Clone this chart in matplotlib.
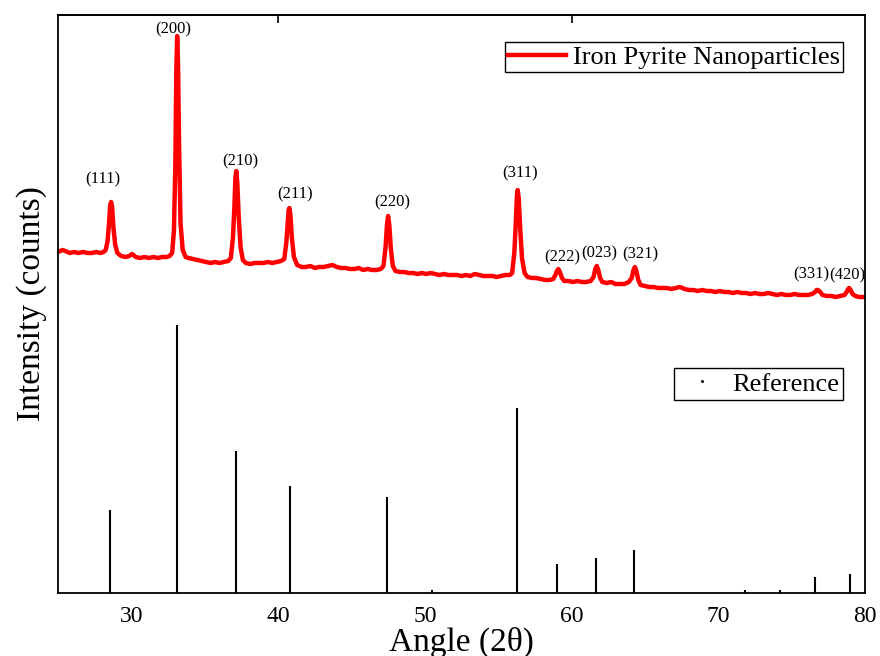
import numpy as np
import matplotlib
matplotlib.use("Agg")
import matplotlib.pyplot as plt
from matplotlib.lines import Line2D

plt.rcParams['font.family'] = ['Liberation Serif', 'DejaVu Serif']

# measured XRD scan (2theta in degrees, intensity in arbitrary counts)
pyrite_scan = [
    (25.0, 341), (25.3, 343), (25.5, 342), (25.8, 340), (26.1, 341), (26.4, 340), (26.7, 341),
    (27.0, 340), (27.3, 340), (27.6, 341), (27.9, 340), (28.1, 341),
    (28.25, 343), (28.38, 352), (28.48, 370), (28.56, 388), (28.62, 391), (28.69, 386),
    (28.78, 365), (28.9, 348), (29.05, 340),
    (29.3, 337), (29.6, 336), (29.85, 337), (30.05, 339), (30.3, 336), (30.6, 335), (30.9, 336),
    (31.2, 335), (31.5, 336), (31.8, 335), (32.1, 336), (32.4, 336), (32.6, 337),
    (32.78, 340), (32.9, 362), (33.0, 430), (33.06, 520), (33.12, 557), (33.18, 530),
    (33.25, 450), (33.35, 370), (33.5, 343), (33.7, 336),
    (33.9, 335), (34.2, 334), (34.5, 333), (34.8, 332), (35.1, 331), (35.4, 330), (35.7, 331),
    (36.0, 330), (36.3, 331), (36.6, 332),
    (36.78, 335), (36.92, 355), (37.02, 385), (37.09, 415), (37.15, 422), (37.22, 410),
    (37.32, 375), (37.45, 345), (37.6, 333),
    (37.8, 330), (38.1, 329), (38.4, 330), (38.7, 330), (39.0, 330), (39.3, 331), (39.6, 330),
    (39.9, 331), (40.2, 332),
    (40.42, 334), (40.56, 350), (40.66, 370), (40.72, 383), (40.77, 385), (40.84, 378),
    (40.94, 355), (41.08, 336), (41.3, 328),
    (41.6, 326), (41.9, 326), (42.2, 327), (42.5, 325), (42.8, 326), (43.1, 326), (43.4, 327),
    (43.7, 328), (44.0, 326), (44.3, 325), (44.6, 325), (44.9, 324), (45.2, 324), (45.5, 325),
    (45.8, 323), (46.1, 324), (46.4, 323), (46.7, 323), (47.0, 324),
    (47.18, 327), (47.32, 345), (47.42, 368), (47.5, 377), (47.58, 368), (47.68, 345),
    (47.82, 327), (48.0, 322),
    (48.3, 321), (48.6, 321), (48.9, 320), (49.2, 320), (49.5, 319), (49.8, 320), (50.1, 319),
    (50.4, 320), (50.7, 319), (51.0, 318), (51.3, 319), (51.6, 318), (51.9, 318), (52.2, 318),
    (52.5, 317), (52.8, 318), (53.1, 317), (53.4, 319), (53.7, 318), (54.0, 317), (54.3, 317),
    (54.6, 317), (54.9, 316), (55.2, 317), (55.5, 318), (55.8, 318),
    (55.95, 320), (56.1, 340), (56.2, 370), (56.28, 398), (56.33, 403), (56.4, 395),
    (56.5, 365), (56.62, 335), (56.8, 320),
    (57.0, 316), (57.3, 315), (57.6, 315), (57.9, 314), (58.2, 313), (58.5, 313), (58.75, 314),
    (58.9, 318), (59.0, 322), (59.1, 324), (59.2, 321), (59.35, 315), (59.5, 312),
    (59.8, 312), (60.1, 311), (60.4, 312), (60.7, 311), (61.0, 311), (61.3, 312),
    (61.5, 316), (61.62, 324), (61.72, 327), (61.82, 323), (61.95, 315), (62.1, 311),
    (62.4, 310), (62.7, 311), (63.0, 309), (63.3, 309), (63.6, 309), (63.9, 311),
    (64.1, 315), (64.22, 323), (64.32, 326), (64.42, 322), (64.55, 313), (64.7, 308),
    (65.0, 307), (65.3, 306), (65.6, 306), (65.9, 305), (66.2, 305), (66.5, 305), (66.8, 304),
    (67.1, 305), (67.4, 306), (67.7, 304), (68.0, 303), (68.3, 303), (68.6, 302), (68.9, 303),
    (69.2, 302), (69.5, 302), (69.8, 301), (70.1, 302), (70.4, 301), (70.7, 301), (71.0, 300),
    (71.3, 301), (71.6, 300), (71.9, 300), (72.2, 299), (72.5, 300), (72.8, 299), (73.1, 299),
    (73.4, 300), (73.7, 299), (74.0, 298), (74.3, 299), (74.6, 298), (74.9, 298), (75.2, 299),
    (75.5, 298), (75.8, 298), (76.1, 298), (76.4, 299),
    (76.6, 301), (76.7, 303), (76.8, 303), (76.95, 301), (77.1, 298),
    (77.4, 297), (77.7, 297), (78.0, 296), (78.3, 297), (78.6, 298),
    (78.75, 301), (78.85, 304), (78.92, 305), (79.02, 303), (79.15, 299), (79.35, 297),
    (79.6, 296), (79.9, 296), (80.0, 296),
]
scan_2theta = np.array([p[0] for p in pyrite_scan])
scan_counts = np.array([p[1] for p in pyrite_scan])

# reference stick pattern (2theta, relative intensity %)
ref_2theta = [28.51, 33.08, 37.11, 40.78, 47.42, 50.5, 56.28, 59.02, 61.7, 64.28, 71.8, 74.2, 76.6, 78.98]
ref_intensity = [31, 100, 53, 40, 36, 1, 69, 11, 13, 16, 1, 1, 6, 7]
ref_scale = 2.68

# peak labels
hkl_labels = ['(111)', '(200)', '(210)', '(211)', '(220)', '(311)', '(222)', '(023)', '(321)', '(331)', '(420)']
hkl_2theta = [28.62, 33.12, 37.15, 40.77, 47.5, 56.33, 59.1, 61.72, 64.32, 76.8, 78.92]
hkl_offsets = [(-6, 16), (-3, 5), (3, 7), (4, 10), (3, 10), (2, 12), (3, 8), (2, 9), (4, 9), (-5, 11), (-1.5, 9)]

fig = plt.figure(figsize=(8.8, 6.56), dpi=100)
ax = fig.add_axes([58 / 880, 63 / 656, 807 / 880, 578 / 656])

ax.plot(scan_2theta, scan_counts, color='#ff0000', lw=3.2, solid_joinstyle='round')
ax.vlines(ref_2theta, 0, np.array(ref_intensity) * ref_scale, color='black', lw=1.5)

for lab, tt, off in zip(hkl_labels, hkl_2theta, hkl_offsets):
    near = np.abs(scan_2theta - tt) < 0.3
    top = scan_counts[near].max()
    ax.annotate(lab, (tt, top), xytext=off, textcoords='offset points',
                ha='center', va='center', fontsize=12)

ax.set_xlim(25, 80)
ax.set_ylim(0, 578)
ax.set_xticks([30, 40, 50, 60, 70, 80])
ax.set_yticks([])
ax.tick_params(axis='x', length=0, pad=9, labelsize=17)
for s in ax.spines.values():
    s.set_linewidth(1.3)

top_ax = ax.secondary_xaxis('top')
top_ax.set_xticks([40, 60])
top_ax.tick_params(direction='in', length=6, width=1.2, labeltop=False)
top_ax.spines['top'].set_linewidth(1.3)

ax.set_xlabel('Angle (2θ)', fontsize=24, labelpad=0)
ax.set_ylabel('Intensity (counts)', fontsize=24, labelpad=8)

red_handle = Line2D([], [], color='#ff0000', lw=3.2)
leg1 = ax.legend([red_handle], ['Iron Pyrite Nanoparticles'], loc='upper right',
                 bbox_to_anchor=(0.973, 0.953), borderaxespad=0, fontsize=19,
                 handlelength=2.2, handletextpad=0.27, borderpad=0.12,
                 fancybox=False, framealpha=1, edgecolor='black')
leg1.get_frame().set_linewidth(1.0)
ax.add_artist(leg1)

ref_handle = Line2D([], [], color='black', marker='s', markersize=1.0, linestyle='none')
leg2 = ax.legend([ref_handle], ['Reference'], loc='upper right',
                 bbox_to_anchor=(0.973, 0.389), borderaxespad=0, fontsize=19,
                 handlelength=1.8, handletextpad=0.25, borderpad=0.15,
                 fancybox=False, framealpha=1, edgecolor='black')
leg2.get_frame().set_linewidth(1.0)

fig.savefig('out.png', dpi=100)
